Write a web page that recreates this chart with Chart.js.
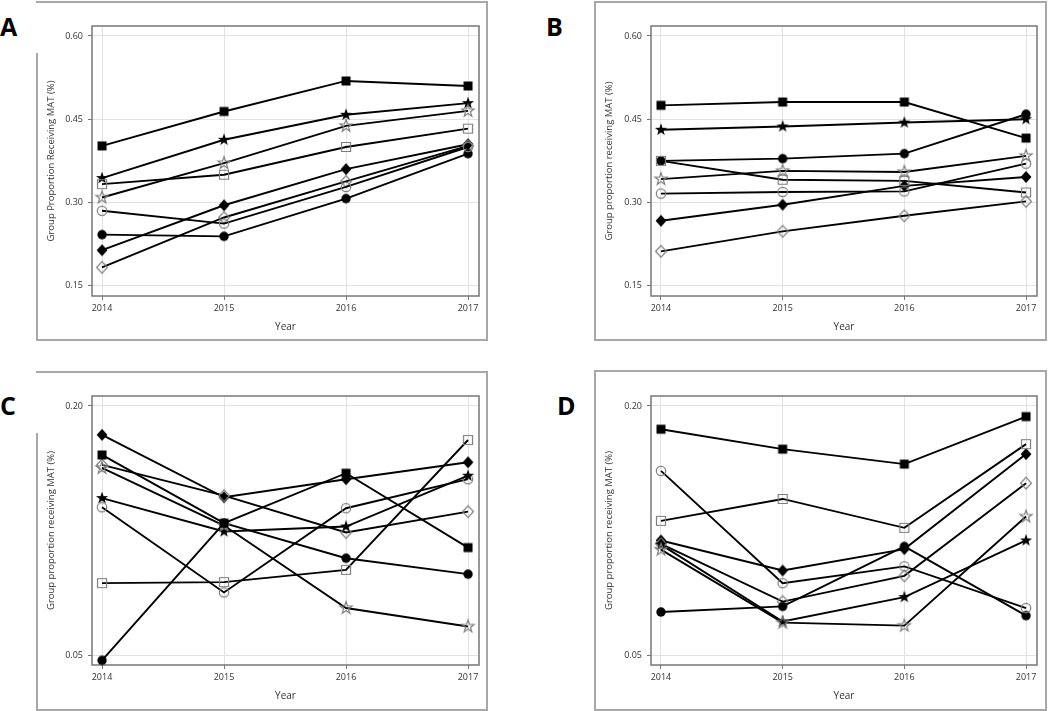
<!DOCTYPE html>
<html><head><meta charset="utf-8">
<script src="https://cdn.jsdelivr.net/npm/chart.js@4.4.0/dist/chart.umd.min.js"></script>
<style>
html,body{margin:0;padding:0;background:#fff;}
body{width:1050px;height:711px;position:relative;overflow:hidden;font-family:"Open Sans",sans-serif;}
.box{position:absolute;border:2px solid #a8a8a8;box-sizing:border-box;}
.gap{position:absolute;background:#fff;}
.lbl{position:absolute;font:bold 25px/25px "Open Sans",sans-serif;color:#000;}
canvas{position:absolute;}
</style></head><body>
<div class="box" style="left:36px;top:1px;width:452px;height:340px"></div>
<div class="box" style="left:594px;top:1px;width:453px;height:340px"></div>
<div class="box" style="left:36px;top:371px;width:452px;height:340px"></div>
<div class="box" style="left:594px;top:370px;width:453px;height:341px"></div>
<div class="gap" style="left:35px;top:3px;width:4px;height:50px"></div>
<div class="gap" style="left:35px;top:373px;width:4px;height:60px"></div>
<div class="lbl" style="left:0px;top:14px">A</div>
<div class="lbl" style="left:546px;top:14px">B</div>
<div class="lbl" style="left:0px;top:393px">C</div>
<div class="lbl" style="left:557px;top:393px">D</div>
<canvas id="cA" width="450" height="338" style="left:37px;top:2px"></canvas>
<canvas id="cB" width="451" height="338" style="left:595px;top:2px"></canvas>
<canvas id="cC" width="450" height="338" style="left:37px;top:372px"></canvas>
<canvas id="cD" width="451" height="339" style="left:595px;top:371px"></canvas>
<script>
// ---- data ----
const YEARS = [2014, 2015, 2016, 2017];
const Y_TICKS_AB = [0.15, 0.30, 0.45, 0.60];
const Y_TICKS_CD = [0.05, 0.20];

const A_FILLED_SQUARE  = [0.402, 0.464, 0.519, 0.510];
const A_OPEN_SQUARE    = [0.333, 0.350, 0.400, 0.433];
const A_FILLED_STAR    = [0.344, 0.413, 0.458, 0.479];
const A_OPEN_STAR      = [0.309, 0.371, 0.438, 0.465];
const A_FILLED_CIRCLE  = [0.242, 0.239, 0.307, 0.388];
const A_OPEN_CIRCLE    = [0.285, 0.262, 0.328, 0.400];
const A_FILLED_DIAMOND = [0.214, 0.295, 0.360, 0.405];
const A_OPEN_DIAMOND   = [0.183, 0.273, 0.338, 0.402];

const B_FILLED_SQUARE  = [0.475, 0.481, 0.481, 0.416];
const B_OPEN_SQUARE    = [0.375, 0.341, 0.339, 0.318];
const B_FILLED_STAR    = [0.431, 0.437, 0.444, 0.450];
const B_OPEN_STAR      = [0.342, 0.357, 0.355, 0.384];
const B_FILLED_CIRCLE  = [0.375, 0.379, 0.388, 0.459];
const B_OPEN_CIRCLE    = [0.316, 0.319, 0.320, 0.370];
const B_FILLED_DIAMOND = [0.267, 0.296, 0.330, 0.346];
const B_OPEN_DIAMOND   = [0.212, 0.248, 0.276, 0.302];

const C_FILLED_SQUARE  = [0.1705, 0.1294, 0.1595, 0.1147];
const C_OPEN_SQUARE    = [0.0933, 0.0939, 0.1013, 0.1795];
const C_FILLED_STAR    = [0.1445, 0.1244, 0.1274, 0.1580];
const C_OPEN_STAR      = [0.1627, 0.1280, 0.0783, 0.0672];
const C_FILLED_CIRCLE  = [0.0468, 0.1294, 0.1083, 0.0987];
const C_OPEN_CIRCLE    = [0.1390, 0.0877, 0.1384, 0.1559];
const C_FILLED_DIAMOND = [0.1826, 0.1450, 0.1559, 0.1661];
const C_OPEN_DIAMOND   = [0.1645, 0.1460, 0.1238, 0.1364];

const D_FILLED_SQUARE  = [0.1860, 0.1740, 0.1650, 0.1936];
const D_OPEN_SQUARE    = [0.1308, 0.1440, 0.1266, 0.1770];
const D_FILLED_STAR    = [0.1165, 0.0702, 0.0849, 0.1190];
const D_OPEN_STAR      = [0.1135, 0.0695, 0.0677, 0.1334];
const D_FILLED_CIRCLE  = [0.0759, 0.0793, 0.1154, 0.0737];
const D_OPEN_CIRCLE    = [0.1609, 0.0933, 0.1034, 0.0783];
const D_FILLED_DIAMOND = [0.1190, 0.1009, 0.1138, 0.1710];
const D_OPEN_DIAMOND   = [0.1170, 0.0822, 0.0977, 0.1535];

const TITLE_A = 'Group Proportion Receiving MAT (%)';
const TITLE_OTHER = 'Group proportion receiving MAT (%)';

// ---- markers ----
function marker(shape, filled) {
  const c = document.createElement('canvas');
  c.width = 16; c.height = 16;
  const g = c.getContext('2d');
  g.translate(8, 8);
  g.beginPath();
  if (shape === 'square') g.rect(-4.5, -4.5, 9, 9);
  else if (shape === 'circle') g.arc(0, 0, 4.7, 0, Math.PI * 2);
  else if (shape === 'diamond') { g.moveTo(0, -5.9); g.lineTo(5.4, 0); g.lineTo(0, 5.9); g.lineTo(-5.4, 0); g.closePath(); }
  else if (shape === 'star') {
    for (let i = 0; i < 10; i++) {
      const r = i % 2 ? 2.6 : 6.4;
      const a = -Math.PI / 2 + i * Math.PI / 5;
      if (i === 0) g.moveTo(r * Math.cos(a), r * Math.sin(a)); else g.lineTo(r * Math.cos(a), r * Math.sin(a));
    }
    g.closePath();
  }
  if (filled) { g.fillStyle = '#000'; g.fill(); }
  else { g.strokeStyle = '#7d7d7d'; g.lineWidth = 1.2; g.stroke(); }
  return c;
}

function buildDatasets(list) {
  return list.map(([vals, shape, filled]) => ({
    data: vals.map((v, i) => ({x: YEARS[i], y: v})),
    borderColor: '#000',
    borderWidth: 1.9,
    pointStyle: marker(shape, filled),
    pointRadius: 5,
    clip: false,
    tension: 0
  }));
}

const framePlugin = {
  id: 'frame',
  beforeDatasetsDraw(chart) {
    const {ctx, chartArea: a} = chart;
    ctx.save();
    ctx.strokeStyle = '#777';
    ctx.lineWidth = 1.5;
    ctx.strokeRect(a.left, a.top, a.right - a.left, a.bottom - a.top);
    ctx.restore();
  }
};

Chart.defaults.font.family = '"Open Sans", sans-serif';
Chart.defaults.color = '#333';
Chart.defaults.devicePixelRatio = 1;

function makeChart(id, series, yMin, yMax, yTicks, title, L, R, T, xH, yearPad) {
  new Chart(document.getElementById(id), {
    type: 'line',
    data: {datasets: buildDatasets(series)},
    plugins: [framePlugin],
    options: {
      responsive: false,
      animation: false,
      layout: {padding: {left: 0, right: R, top: T, bottom: 0}},
      plugins: {legend: {display: false}, tooltip: {enabled: false}},
      scales: {
        x: {
          type: 'linear', min: 2013.918, max: 2017.09,
          afterBuildTicks: s => { s.ticks = YEARS.map(v => ({value: v})); },
          afterFit: s => { s.height = xH; },
          ticks: {font: {size: 9}, padding: 3, color: '#333', callback: v => String(v)},
          grid: {color: '#e2e2e2', lineWidth: 1, drawTicks: true, tickLength: 4, tickColor: '#777'},
          border: {display: false},
          title: {display: true, text: 'Year', font: {size: 10}, color: '#333', padding: {top: 0, bottom: yearPad}}
        },
        y: {
          type: 'linear', min: yMin, max: yMax,
          afterBuildTicks: s => { s.ticks = yTicks.map(v => ({value: v})); },
          afterFit: s => { s.width = L; },
          ticks: {font: {size: 9}, padding: 5, color: '#333', callback: v => Number(v).toFixed(2)},
          grid: {color: '#e2e2e2', lineWidth: 1, drawTicks: true, tickLength: 4, tickColor: '#777'},
          border: {display: false},
          title: {display: true, text: title, font: {size: 9.5}, color: '#333', padding: {top: 9, bottom: 0}}
        }
      }
    }
  });
}

makeChart('cA', [
  [A_FILLED_SQUARE, 'square', true], [A_OPEN_SQUARE, 'square', false],
  [A_OPEN_STAR, 'star', false], [A_FILLED_STAR, 'star', true],
  [A_OPEN_CIRCLE, 'circle', false], [A_FILLED_CIRCLE, 'circle', true],
  [A_OPEN_DIAMOND, 'diamond', false], [A_FILLED_DIAMOND, 'diamond', true]
], 0.1315, 0.618, Y_TICKS_AB, TITLE_A, 55, 8, 24, 44, 7);

makeChart('cB', [
  [B_FILLED_SQUARE, 'square', true], [B_OPEN_SQUARE, 'square', false],
  [B_OPEN_STAR, 'star', false], [B_FILLED_STAR, 'star', true],
  [B_OPEN_CIRCLE, 'circle', false], [B_FILLED_CIRCLE, 'circle', true],
  [B_OPEN_DIAMOND, 'diamond', false], [B_FILLED_DIAMOND, 'diamond', true]
], 0.1315, 0.618, Y_TICKS_AB, TITLE_OTHER, 56, 9, 24, 44, 7);

makeChart('cC', [
  [C_FILLED_SQUARE, 'square', true], [C_OPEN_SQUARE, 'square', false],
  [C_OPEN_STAR, 'star', false], [C_FILLED_STAR, 'star', true],
  [C_OPEN_CIRCLE, 'circle', false], [C_FILLED_CIRCLE, 'circle', true],
  [C_OPEN_DIAMOND, 'diamond', false], [C_FILLED_DIAMOND, 'diamond', true]
], 0.044, 0.206, Y_TICKS_CD, TITLE_OTHER, 55, 8, 24, 45, 8);

makeChart('cD', [
  [D_FILLED_SQUARE, 'square', true], [D_OPEN_SQUARE, 'square', false],
  [D_OPEN_STAR, 'star', false], [D_FILLED_STAR, 'star', true],
  [D_OPEN_CIRCLE, 'circle', false], [D_FILLED_CIRCLE, 'circle', true],
  [D_OPEN_DIAMOND, 'diamond', false], [D_FILLED_DIAMOND, 'diamond', true]
], 0.044, 0.206, Y_TICKS_CD, TITLE_OTHER, 56, 9, 25, 45, 8);
</script>
</body></html>
